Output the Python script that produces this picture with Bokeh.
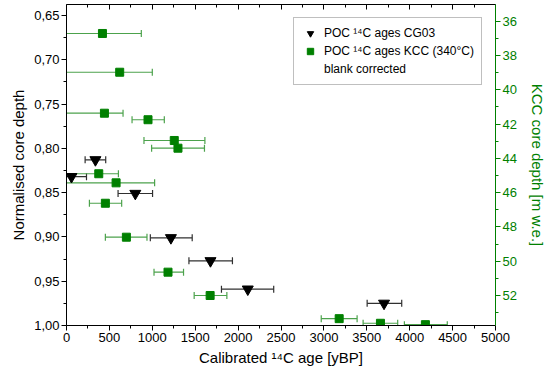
import numpy as np
from bokeh.plotting import figure
from bokeh.models import (Range1d, LinearAxis, FixedTicker, CustomJSTickFormatter,
                          ColumnDataSource, Legend, LegendItem)
from bokeh.embed import file_html
from bokeh.resources import INLINE

# ---- data: POC 14C ages CG03 (left axis, normalised depth) ----
cg_age = [337, 58, 802, 1217, 1678, 2113, 3701]
cg_lo = [217, -117, 601, 977, 1427, 1806, 3504]
cg_hi = [457, 233, 1003, 1465, 1934, 2415, 3907]
cg_depth = [0.813, 0.832, 0.851, 0.901, 0.927, 0.959, 0.975]

# ---- data: POC 14C ages KCC (340°C), blank corrected (right axis, m w.e.) ----
kcc_age = [419, 620, 442, 950, 1256, 1299, 376, 578, 453, 698, 1183, 1674, 3178, 3659, 4183]
kcc_lo = [-30, -20, -40, 764, 903, 992, -40, -30, 267, 453, 1020, 1488, 2969, 3457, 3938]
kcc_hi = [872, 1000, 659, 1140, 1613, 1608, 605, 1027, 643, 938, 1364, 1869, 3387, 3860, 4438]
kcc_depth = [36.72, 38.98, 41.37, 41.75, 42.96, 43.41, 44.90, 45.43, 46.62, 48.60,
             50.64, 52.00, 53.35, 53.62, 53.70]

x_ticks = list(range(0, 5001, 500))
x_minor = list(range(250, 5000, 500))
y_ticks = [0.65, 0.70, 0.75, 0.80, 0.85, 0.90, 0.95, 1.00]
y_minor = [0.625, 0.675, 0.725, 0.775, 0.825, 0.875, 0.925, 0.975]
r_ticks = [36, 38, 40, 42, 44, 46, 48, 50, 52]
r_minor = [35, 37, 39, 41, 43, 45, 47, 49, 51, 53]

FONT = "Liberation Sans"
GREEN = "#008000"
BAR_GREEN = "#4ca24c"

p = figure(width=548, height=377, output_backend="svg", toolbar_location=None,
           x_range=Range1d(0, 5000), y_range=Range1d(1.0, 0.6376),
           x_axis_type=None, y_axis_type=None,
           min_border_left=66, min_border_right=52, min_border_top=4, min_border_bottom=52)
p.extra_y_ranges = {"kcc": Range1d(53.75, 35.03)}
p.xgrid.visible = False
p.ygrid.visible = False
p.outline_line_color = None
p.background_fill_color = "white"
p.border_fill_color = "white"


def style_axis(ax, color="black"):
    ax.axis_line_color = color
    ax.major_tick_line_color = color
    ax.minor_tick_line_color = color
    ax.major_label_text_color = color
    ax.axis_label_text_color = color
    ax.major_label_text_font = FONT
    ax.axis_label_text_font = FONT
    ax.major_label_text_font_size = "13px"
    ax.axis_label_text_font_size = "15px"
    ax.axis_label_text_font_style = "normal"
    ax.major_tick_out = 5
    ax.major_tick_in = 0
    ax.minor_tick_out = 3
    ax.minor_tick_in = 0
    ax.major_label_standoff = 2
    ax.axis_label_standoff = 4


left = LinearAxis(ticker=FixedTicker(ticks=y_ticks, minor_ticks=y_minor),
                  formatter=CustomJSTickFormatter(code="return tick.toFixed(2).replace('.', ',');"),
                  axis_label="Normalised core depth")
style_axis(left)
p.add_layout(left, "left")

bottom = LinearAxis(ticker=FixedTicker(ticks=x_ticks, minor_ticks=x_minor),
                    axis_label="Calibrated \u00b9\u2074C age [yBP]")
style_axis(bottom)
p.add_layout(bottom, "below")

top = LinearAxis(ticker=FixedTicker(ticks=x_ticks, minor_ticks=x_minor))
style_axis(top)
top.major_tick_out = 0
top.major_tick_in = 5
top.minor_tick_out = 0
top.minor_tick_in = 3
top.major_label_text_color = None
top.major_label_text_font_size = "0px"
top.major_label_standoff = 0
p.add_layout(top, "above")

right = LinearAxis(y_range_name="kcc", ticker=FixedTicker(ticks=r_ticks, minor_ticks=r_minor),
                   axis_label="KCC core depth [m w.e.]")
style_axis(right, GREEN)
right.axis_label_standoff = 9
p.add_layout(right, "right")

cg = ColumnDataSource(dict(age=cg_age, lo=cg_lo, hi=cg_hi, depth=cg_depth))
kc = ColumnDataSource(dict(age=kcc_age, lo=kcc_lo, hi=kcc_hi, depth=kcc_depth))

# error bars
p.segment(x0="lo", x1="hi", y0="depth", y1="depth", source=cg, line_color="#303030", line_width=1.2)
p.scatter(x="lo", y="depth", source=cg, marker="dash", angle=np.pi / 2, size=7,
          line_color="#303030", line_width=1.2)
p.scatter(x="hi", y="depth", source=cg, marker="dash", angle=np.pi / 2, size=7,
          line_color="#303030", line_width=1.2)

p.segment(x0="lo", x1="hi", y0="depth", y1="depth", source=kc, y_range_name="kcc",
          line_color=BAR_GREEN, line_width=1.2)
p.scatter(x="lo", y="depth", source=kc, y_range_name="kcc", marker="dash", angle=np.pi / 2,
          size=7, line_color=BAR_GREEN, line_width=1.2)
p.scatter(x="hi", y="depth", source=kc, y_range_name="kcc", marker="dash", angle=np.pi / 2,
          size=7, line_color=BAR_GREEN, line_width=1.2)

# markers
tri = p.scatter(x="age", y="depth", source=cg, marker="inverted_triangle", size=11,
                fill_color="black", line_color="black")
sq = p.scatter(x="age", y="depth", source=kc, y_range_name="kcc", marker="square", size=8,
               fill_color=GREEN, line_color=GREEN)
dummy = p.scatter(x=[], y=[], marker="square", size=1, fill_alpha=0, line_alpha=0)

legend = Legend(items=[
    LegendItem(label="POC \u00b9\u2074C ages CG03", renderers=[tri]),
    LegendItem(label="POC \u00b9\u2074C ages KCC (340\u00b0C)", renderers=[sq]),
    LegendItem(label="blank corrected", renderers=[dummy]),
], location="top_right")
legend.margin = 13
legend.padding = 7
legend.spacing = 2
legend.glyph_height = 16
legend.label_height = 16
legend.glyph_width = 18
legend.label_standoff = 5
legend.label_text_font = FONT
legend.label_text_font_size = "12px"
legend.label_text_color = "black"
legend.border_line_color = "#808080"
legend.border_line_width = 1
legend.background_fill_color = "white"
legend.background_fill_alpha = 1
p.add_layout(legend)

open("out.html", "w").write(file_html(p, INLINE))
